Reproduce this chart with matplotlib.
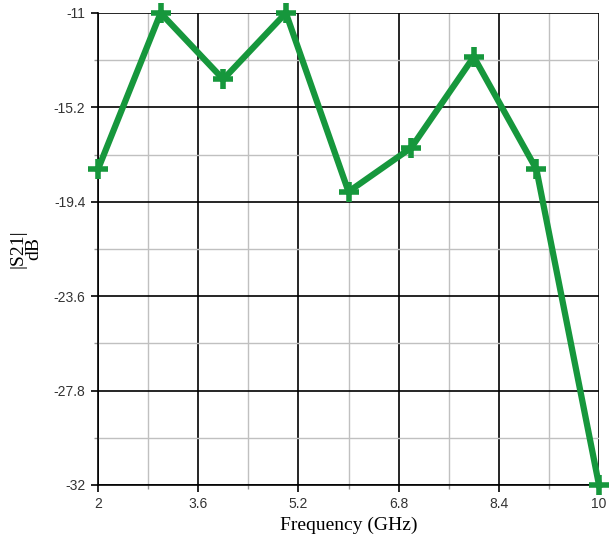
import matplotlib.pyplot as plt
from matplotlib.ticker import FixedLocator

freq = [2, 3, 4, 5, 6, 7, 8, 9, 10]
s21 = [-17.95, -11.0, -13.95, -11.0, -18.95, -17.0, -12.95, -17.95, -32.0]
xticks = [2, 3.6, 5.2, 6.8, 8.4, 10]
yticks = [-32, -27.8, -23.6, -19.4, -15.2, -11]

fig = plt.figure(figsize=(6.09, 5.45), dpi=100)
ax = fig.add_axes([98 / 609, 1 - 485 / 545, 501 / 609, 472 / 545])

ax.plot(freq, s21, color='#16973c', linewidth=4.5, marker='+',
        markersize=15, markeredgewidth=4, clip_on=False, zorder=5)

ax.set_xlim(2, 10)
ax.set_ylim(-32, -11)
ax.set_xticks(xticks)
ax.set_xticklabels(['2', '3.6', '5.2', '6.8', '8.4', '10'])
ax.set_yticks(yticks)
ax.set_yticklabels(['-32', '-27.8', '-23.6', '-19.4', '-15.2', '-11'])
# minor grid halfway between major ticks
ax.xaxis.set_minor_locator(FixedLocator([(a + b) / 2 for a, b in zip(xticks[:-1], xticks[1:])]))
ax.yaxis.set_minor_locator(FixedLocator([(a + b) / 2 for a, b in zip(yticks[:-1], yticks[1:])]))

ax.grid(which='major', color='black', linewidth=1.2)
ax.grid(which='minor', color='#c0c0c0', linewidth=1.0)
ax.tick_params(which='major', length=5, width=1.2, direction='out',
               labelsize=10, labelcolor='#333333', pad=4)
ax.tick_params(which='minor', length=3, width=1.0, color='#999999', direction='out')
for lab in ax.get_xticklabels() + ax.get_yticklabels():
    lab.set_family('Liberation Sans')

for s in ['top', 'right']:
    ax.spines[s].set_visible(False)
ax.spines['left'].set_linewidth(1.2)
ax.spines['bottom'].set_linewidth(1.2)

ax.set_xlabel('Frequency (GHz)', family='Liberation Serif', fontsize=14, labelpad=4)
ax.set_ylabel('|S21|\ndB', family='Liberation Serif', fontsize=14,
              linespacing=0.95, labelpad=8)

fig.savefig('out.png', dpi=100)
